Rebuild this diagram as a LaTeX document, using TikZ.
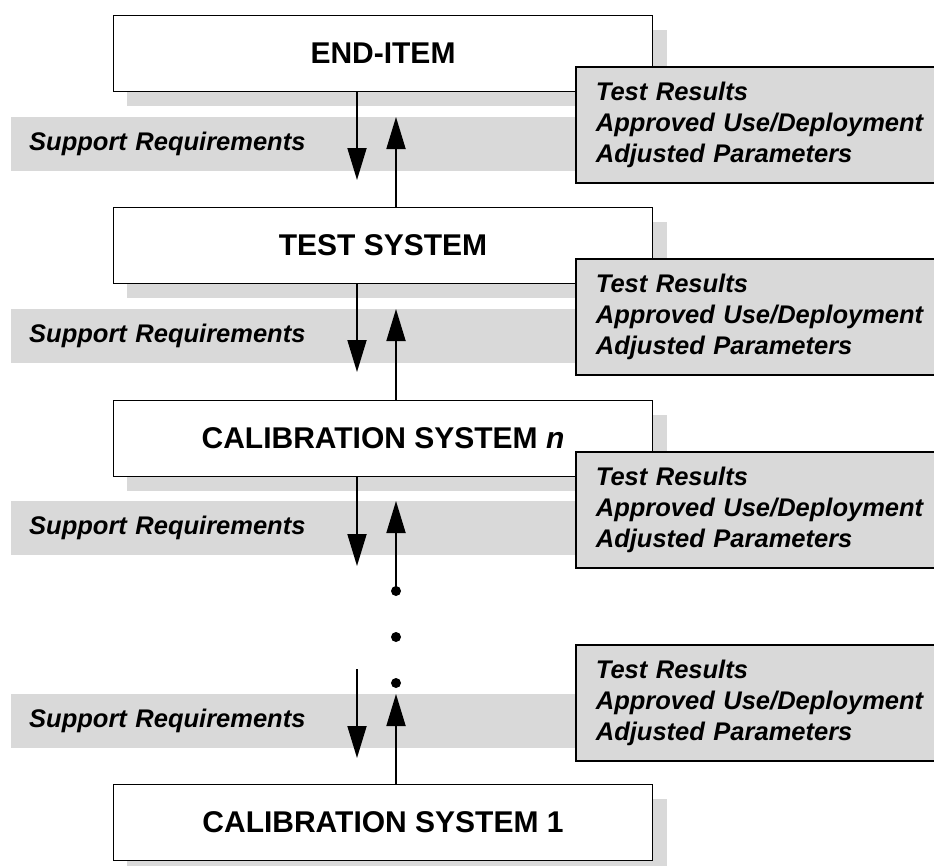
\documentclass[tikz,border=0pt]{standalone}
\usepackage{fontspec}
\setmainfont{Liberation Sans}
\usetikzlibrary{arrows.meta}
\definecolor{panel}{gray}{0.85}
\begin{document}
\begin{tikzpicture}[x=1pt,y=-1pt,
  every node/.style={font=\bfseries\fontsize{25.5}{30.5}\selectfont},
  levelbox/.style={draw, line width=1.8pt, fill=white, minimum width=539pt,
    minimum height=76pt, inner sep=0pt, font=\bfseries\fontsize{30}{36}\selectfont},
  feedback/.style={draw, line width=1.8pt, fill=panel, anchor=north west,
    minimum width=362pt, minimum height=116pt, text width=340pt,
    inner xsep=20pt, inner ysep=14pt, align=left,
    font=\bfseries\itshape\fontsize{25.5}{31}\selectfont},
  band/.style={fill=panel, anchor=north west, minimum width=566pt,
    minimum height=54pt, text width=530pt, inner xsep=18pt, inner ysep=0pt,
    align=left, font=\bfseries\itshape\fontsize{25.5}{30.5}\selectfont},
  flow/.style={line width=1.8pt, -{Triangle[length=32pt,width=19pt]}},
  dot/.style={circle, fill=black, minimum size=10pt, inner sep=0pt}]
\useasboundingbox (0,0) rectangle (934,865);

% drop shadows of the level boxes
\foreach \y in {15,207,400,784}
  \fill[panel] (127,\y+15) rectangle (667,\y+91);

% support-requirement bands
\node[band] (s1) at (11,117) {Support Requirements};
\node[band] (s2) at (11,309) {Support Requirements};
\node[band] (s3) at (11,501) {Support Requirements};
\node[band] (s4) at (11,694) {Support Requirements};

% level boxes
\node[levelbox] (b1) at (383,53.5) {END-ITEM};
\node[levelbox] (b2) at (383,245.5) {TEST SYSTEM};
\node[levelbox] (b3) at (383,438.5) {CALIBRATION SYSTEM \textit{n}};
\node[levelbox] (b4) at (383,822.5) {CALIBRATION SYSTEM 1};

% feedback panels
\node[feedback] (r1) at (575,66) {Test Results\\Approved Use/Deployment\\Adjusted Parameters};
\node[feedback] (r2) at (575,258) {Test Results\\Approved Use/Deployment\\Adjusted Parameters};
\node[feedback] (r3) at (575,451) {Test Results\\Approved Use/Deployment\\Adjusted Parameters};
\node[feedback] (r4) at (575,644) {Test Results\\Approved Use/Deployment\\Adjusted Parameters};

% ellipsis dots between the calibration levels
\node[dot] (d1) at (396,591) {};
\node[dot] (d2) at (396,637) {};
\node[dot] (d3) at (396,683) {};

% arrow tips and free ends
\coordinate (dn1) at (357,180);
\coordinate (up1) at (396,117);
\coordinate (dn2) at (357,372);
\coordinate (up2) at (396,309);
\coordinate (dn3) at (357,566);
\coordinate (up3) at (396,501);
\coordinate (dn4s) at (357,669);
\coordinate (dn4) at (357,758);
\coordinate (up4) at (396,694);

% requirement / result flows
\draw[flow] (b1.south -| dn1) -- (dn1);
\draw[flow] (b2.north -| up1) -- (up1);
\draw[flow] (b2.south -| dn2) -- (dn2);
\draw[flow] (b3.north -| up2) -- (up2);
\draw[flow] (b3.south -| dn3) -- (dn3);
\draw[flow] (d1.center) -- (up3);
\draw[flow] (dn4s) -- (dn4);
\draw[flow] (b4.north -| up4) -- (up4);
\end{tikzpicture}
\end{document}
